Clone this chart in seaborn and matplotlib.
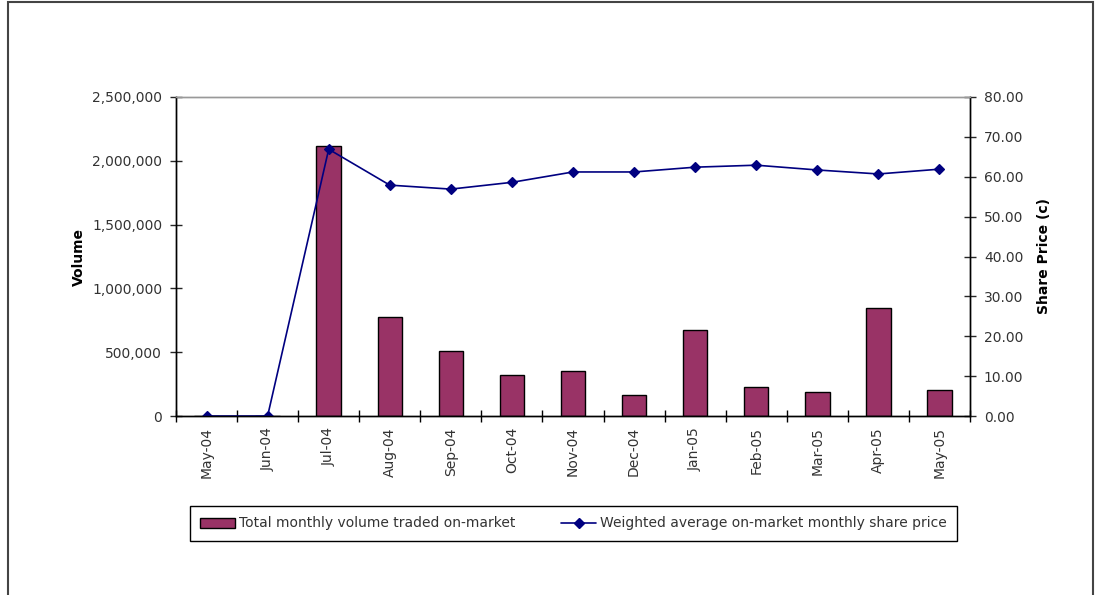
import numpy as np
import pandas as pd
import matplotlib
matplotlib.use("Agg")
import matplotlib.pyplot as plt
import seaborn as sns
from matplotlib.ticker import FuncFormatter, MultipleLocator
from matplotlib.patches import Patch, Rectangle
from matplotlib.lines import Line2D

months = ["May-04", "Jun-04", "Jul-04", "Aug-04", "Sep-04", "Oct-04", "Nov-04",
          "Dec-04", "Jan-05", "Feb-05", "Mar-05", "Apr-05", "May-05"]
volume = [0, 0, 2116000, 776000, 509000, 321000, 353000,
          165000, 674000, 227000, 188000, 846000, 204000]
price = [0.0, 0.0, 66.9, 57.9, 56.9, 58.6, 61.2,
         61.2, 62.4, 62.9, 61.7, 60.7, 61.9]

bar_color = "#993366"
line_color = "#000080"
text_color = "#333333"

sns.set_theme(style="white")
plt.rcParams["font.family"] = ["DejaVu Sans"]
plt.rcParams["font.size"] = 10

df = pd.DataFrame({"month": months, "volume": volume, "price": price})

fig = plt.figure(figsize=(10.96, 5.95), dpi=100)
ax = fig.add_axes([176 / 1096, 1 - 416 / 595, 794 / 1096, 319 / 595])

sns.barplot(data=df, x="month", y="volume", order=months, color=bar_color,
            saturation=1, width=0.4, edgecolor="black", linewidth=1, ax=ax)

ax2 = ax.twinx()
sns.pointplot(data=df, x="month", y="price", order=months, color=line_color,
              markers="D", markersize=5, linewidth=1.2, ax=ax2)

ax.set_xlim(-0.5, len(months) - 0.5)
ax.set_ylim(0, 2500000)
ax2.set_ylim(0, 80)
ax.yaxis.set_major_locator(MultipleLocator(500000))
ax2.yaxis.set_major_locator(MultipleLocator(10))
ax.yaxis.set_major_formatter(FuncFormatter(lambda v, p: f"{int(v):,}"))
ax2.yaxis.set_major_formatter(FuncFormatter(lambda v, p: f"{v:.2f}"))

# category boundary ticks on x
ax.set_xticks(np.arange(-0.5, len(months), 1.0), minor=True)
ax.tick_params(axis="x", which="major", length=0, labelrotation=90,
               labelsize=10, labelcolor=text_color, pad=8)
ax.tick_params(axis="x", which="minor", length=8, width=1, direction="inout",
               color="black", bottom=True)
ax.tick_params(axis="y", which="major", length=8, width=1, direction="inout",
               left=True, labelsize=10, labelcolor=text_color, pad=6)
ax2.tick_params(axis="y", which="major", length=8, width=1, direction="inout",
                right=True, labelsize=10, labelcolor=text_color, pad=6)

ax.set_xlabel("")
ax.set_ylabel("Volume", fontweight="bold", fontsize=10, color="black", labelpad=4)
ax2.set_ylabel("Share Price (c)", fontweight="bold", fontsize=10, color="black", labelpad=10)

for a in (ax, ax2):
    for side in ("left", "bottom", "right"):
        a.spines[side].set_color("black")
        a.spines[side].set_linewidth(1)
    a.spines["top"].set_color("#999999")
    a.spines["top"].set_linewidth(1)

handles = [Patch(facecolor=bar_color, edgecolor="black", linewidth=1),
           Line2D([0], [0], color=line_color, marker="D", markersize=5, linewidth=1.2)]
labels = ["Total monthly volume traded on-market",
          "Weighted average on-market monthly share price"]
leg = fig.legend(handles, labels, loc="center", bbox_to_anchor=(573.5 / 1096, 1 - 523.5 / 595),
                 ncol=2, frameon=True, fancybox=False, framealpha=1, edgecolor="black",
                 fontsize=10, columnspacing=3.3, handlelength=2.5, handletextpad=0.3,
                 borderpad=0.75)
leg.get_frame().set_linewidth(1)
for t in leg.get_texts():
    t.set_color(text_color)

# outer chart frame
fig.patches.append(Rectangle((8 / 1096, -0.1), 1085 / 1096, 1.1 - 2 / 595,
                             transform=fig.transFigure, fill=False,
                             edgecolor="#444444", linewidth=1.5))

fig.savefig("out.png", dpi=100)
